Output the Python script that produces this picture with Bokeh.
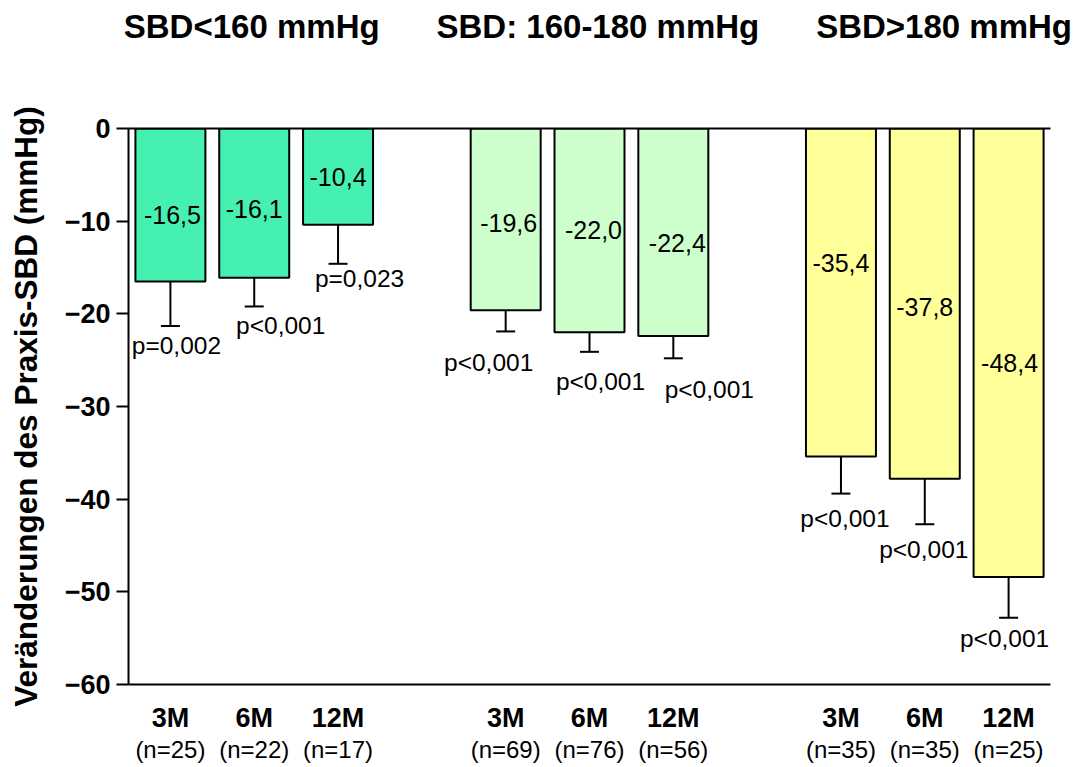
from bokeh.plotting import figure
from bokeh.models import (ColumnDataSource, Range1d, FixedTicker, LabelSet,
                          Whisker, TeeHead, LinearAxis, CustomJSTickFormatter)
from bokeh.core.properties import value
from bokeh.embed import file_html
from bokeh.resources import INLINE

# ---------------- data ----------------
group_titles = ["SBD<160 mmHg", "SBD: 160-180 mmHg", "SBD>180 mmHg"]
periods = ["3M", "6M", "12M", "3M", "6M", "12M", "3M", "6M", "12M"]
n_counts = [25, 22, 17, 69, 76, 56, 35, 35, 25]
means = [-16.5, -16.1, -10.4, -19.6, -22.0, -22.4, -35.4, -37.8, -48.4]
lower = [-21.3, -19.2, -14.6, -21.9, -24.1, -24.8, -39.4, -42.7, -52.8]
p_values = ["p=0,002", "p<0,001", "p=0,023",
            "p<0,001", "p<0,001", "p<0,001",
            "p<0,001", "p<0,001", "p<0,001"]
y_ticks = [0, -10, -20, -30, -40, -50, -60]
y_title = "Veränderungen des Praxis-SBD (mmHg)"

# ---------------- layout / style ----------------
positions = [0, 1, 2, 4, 5, 6, 8, 9, 10]
group_index = [0, 0, 0, 1, 1, 1, 2, 2, 2]
group_colors = ["#46F0B0", "#CCFFCC", "#FFFF99"]
title_positions = [0.97, 5.1, 9.23]
value_dx = [2, 0, 0, 3, 4, 4, 0, 0, 1]
value_dy_down = [10.5, 6.4, 0, 4, 0, 11, -30, 3, 10]
p_dx = [6, 26.5, 21.5, -17, 11, 36, 4, -1, -4]
p_dy_down = [20, 19, 15, 31, 30, 31, 25, 25, 21]
FONT = "Liberation Sans"

src = ColumnDataSource(dict(
    x=positions,
    mean=means,
    lower=lower,
    color=[group_colors[g] for g in group_index],
    vlabel=[f"{v:.1f}".replace(".", ",") for v in means],
    vy=[v / 2 for v in means],
    vdx=value_dx,
    vdy=[-d for d in value_dy_down],
    plabel=p_values,
    pdx=p_dx,
    pdy=[-d for d in p_dy_down],
))

p = figure(width=1081, height=767, output_backend="svg", toolbar_location=None,
           x_range=Range1d(-0.5, 10.5), y_range=Range1d(-60, 0),
           x_axis_location=None,
           min_border_left=128, min_border_right=31,
           min_border_top=128, min_border_bottom=83)
p.outline_line_color = None
p.grid.visible = False
p.background_fill_color = "white"
p.border_fill_color = "white"

yax = p.yaxis[0]
yax.ticker = FixedTicker(ticks=y_ticks)
yax.minor_tick_line_color = None
yax.major_tick_in = 0
yax.major_tick_out = 12
yax.major_tick_line_width = 2
yax.axis_line_width = 2
yax.major_label_text_font = FONT
yax.major_label_text_font_style = "bold"
yax.major_label_text_font_size = "27px"
yax.major_label_text_color = "black"
yax.major_label_standoff = 6
yax.axis_label = y_title
yax.axis_label_text_font = FONT
yax.axis_label_text_font_style = "bold"
yax.axis_label_text_font_size = "31.5px"
yax.axis_label_text_color = "black"
yax.axis_label_standoff = 18


def label_axis(ticks, labels, size, bold, standoff, line):
    ax = LinearAxis(
        ticker=FixedTicker(ticks=ticks),
        formatter=CustomJSTickFormatter(
            args=dict(pos=ticks, labels=labels),
            code="const i = pos.indexOf(tick); return i >= 0 ? labels[i] : '';"),
        axis_line_color="black" if line else None, axis_line_width=2,
        major_tick_line_color=None,
        minor_tick_line_color=None, major_tick_in=0, major_tick_out=0,
        major_label_text_font=FONT, major_label_text_font_size=size,
        major_label_text_font_style="bold" if bold else "normal",
        major_label_text_color="black", major_label_standoff=standoff)
    return ax


# zero line (frame top) and -60 line (frame bottom) drawn as axis lines
p.add_layout(label_axis(title_positions, group_titles, "33px", True, 84, True), "above")
p.add_layout(label_axis(positions, periods, "27px", True, 18, True), "below")
p.add_layout(label_axis(positions, [f"(n={n})" for n in n_counts], "24px", False, 0, False), "below")

p.vbar(x="x", top=0, bottom="mean", width=0.835, source=src,
       fill_color="color", line_color="black", line_width=2)

p.add_layout(Whisker(base="x", upper="mean", lower="lower", source=src,
                     dimension="height", line_color="black", line_width=2,
                     upper_head=None,
                     lower_head=TeeHead(size=19, line_width=2, line_color="black")))

p.add_layout(LabelSet(x="x", y="vy", text="vlabel", x_offset="vdx", y_offset="vdy",
                      source=src, text_align="center", text_baseline="middle",
                      text_font=value(FONT), text_font_size=value("25px"),
                      text_color="black"))
p.add_layout(LabelSet(x="x", y="lower", text="plabel", x_offset="pdx", y_offset="pdy",
                      source=src, text_align="center", text_baseline="middle",
                      text_font=value(FONT), text_font_size=value("24.5px"),
                      text_color="black"))

open("out.html", "w").write(file_html(p, INLINE))
